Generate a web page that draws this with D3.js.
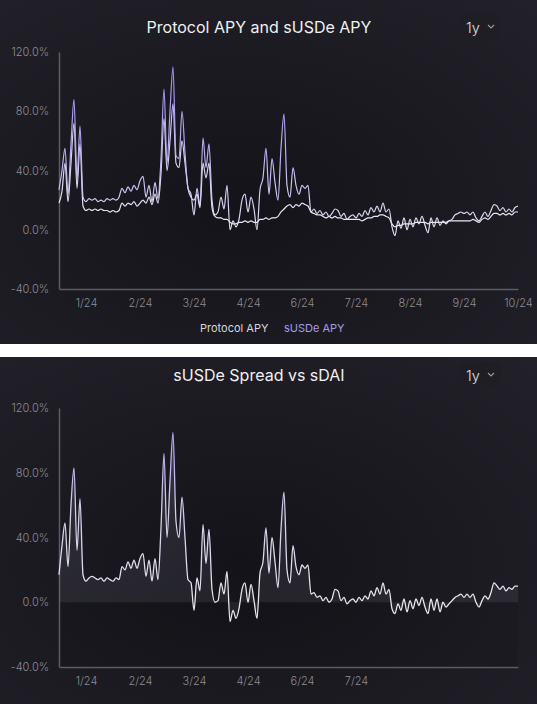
<!DOCTYPE html>
<html>
<head>
<meta charset="utf-8">
<script src="https://cdn.jsdelivr.net/npm/d3@7"></script>
<style>
  html, body { margin: 0; padding: 0; background: #fff; }
  svg { display: block; font-family: Inter, "Noto Sans", sans-serif; }
</style>
</head>
<body>
<svg id="chart" width="537" height="704"></svg>
<script>
// month labels as printed under each chart
var monthLabels = ['1/24', '2/24', '3/24', '4/24', '6/24', '7/24', '8/24', '9/24', '10/24'];
var spreadMonthLabels = ['1/24', '2/24', '3/24', '4/24', '6/24', '7/24'];
var yTicks = [-40, 0, 40, 80, 120];

// APY in %, evenly sampled from mid Dec 23 to Oct 24
var susdeApy = [
  27, 40, 55, 24, 58, 88, 34, 70, 22,
  19, 21, 20, 21, 19, 20, 19, 21, 20, 21, 20, 22,
  28, 25, 29, 26, 30, 27, 33, 36, 22, 30, 19, 32, 21,
  48, 95, 45, 80, 110, 50, 48, 80, 52, 28, 24, 10, 28, 16, 62, 42, 58, 20,
  10, 12, 22, 14, 30, 0, 6, 2, 7, 20, 24, 12, 22, 14, 0, 27,
  35, 55, 24, 48, 32, 20, 55, 78, 30, 22, 42, 30, 24, 30, 28, 30,
  12, 14, 11, 13, 10, 12, 9, 11, 14, 13, 9, 11, 7, 9,
  10, 8, 11, 9, 13, 10, 15, 12, 16, 12, 18, 12, 14, 2,
  -4, 6, 1, 8, 0, 7, 2, 8, 4, 9, 3, -2, 8, 2, 8, 3, 6, 4, 6,
  7, 10, 11, 12, 11, 12, 10, 12, 8, 6, 9, 12, 9,
  13, 17, 16, 13, 15, 12, 14, 12, 15, 16
];

var protocolApy = [
  18, 26, 45, 19, 45, 72, 28, 58, 16,
  13, 14, 13, 14, 13, 14, 13, 13, 12, 13, 12, 13,
  18, 16, 18, 17, 19, 16, 18, 20, 18, 22, 17, 24, 18,
  38, 75, 40, 60, 85, 45, 42, 60, 45, 28, 22, 20, 24, 15, 45, 35, 45, 15,
  9, 8, 8, 7, 7, 5, 4, 4, 5, 5, 6, 5, 6, 5, 5, 7,
  7, 8, 7, 8, 8, 9, 12, 14, 16, 17, 15, 17, 16, 18, 17, 16,
  12, 11, 10, 10, 9, 8, 9, 8, 9, 8, 8, 7, 7, 7,
  7, 7, 7, 6, 7, 8, 8, 9, 9, 10, 10, 9, 8, 4,
  2, 3, 3, 4, 4, 4, 4, 5, 5, 5, 5, 4, 5, 5, 5, 5, 5, 5, 6,
  6, 6, 6, 6, 6, 6, 6, 7, 6, 5, 7, 8, 7,
  9, 11, 11, 10, 11, 10, 11, 10, 12, 12
];

var spreadVsSdai = [
  17, 35, 49, 22, 60, 83, 32, 64, 17,
  13, 15, 16, 15, 14, 15, 13, 15, 14, 13, 15, 14,
  22, 20, 25, 21, 26, 21, 27, 30, 16, 26, 13, 27, 14,
  46, 92, 40, 75, 105, 50, 40, 65, 40, 14, 12, -5, 15, 7, 48, 24, 45, 8,
  0, 1, 12, 5, 19, -12, -5, -10, -4, 8, 12, 0, 11, 1, -10, 18,
  25, 46, 18, 40, 25, 9, 45, 68, 20, 12, 35, 22, 17, 23, 21, 23,
  5, 6, 3, 4, 1, 3, 0, 2, 8, 7, 1, 3, -1, 1,
  2, 0, 3, 1, 4, 2, 7, 4, 9, 5, 12, 5, 8, -4,
  -7, -1, -5, 2, -6, 1, -4, 2, -2, 3, -3, -7, 2, -5, 2, -6, 0, -3, -1,
  1, 3, 4, 5, 3, 5, 3, 5, 0, -3, 1, 4, 2,
  6, 12, 10, 8, 10, 7, 9, 8, 10, 10
];

var svg = d3.select('#chart');
var defs = svg.append('defs');

var bg = defs.append('radialGradient').attr('id', 'panelBg')
  .attr('cx', '45%').attr('cy', '60%').attr('r', '80%');
bg.append('stop').attr('offset', '0%').attr('stop-color', '#141319');
bg.append('stop').attr('offset', '100%').attr('stop-color', '#222129');

// sample index -> month slot (1/24 = 0)
var slot = d3.scaleLinear().domain([0, susdeApy.length - 1]).range([-0.5, 8]);
var x = d3.scaleLinear().domain([-0.5, 8]).range([59, 518]);

function vGrad(id, y1, y2, stops) {
  var g = defs.append('linearGradient').attr('id', id)
    .attr('gradientUnits', 'userSpaceOnUse')
    .attr('x1', 0).attr('x2', 0).attr('y1', y1).attr('y2', y2);
  stops.forEach(function(s) {
    g.append('stop').attr('offset', s[0]).attr('stop-color', s[1]).attr('stop-opacity', s[2] == null ? 1 : s[2]);
  });
}

function panel(top, height, title, titleY, yTop, yBottom, labels) {
  svg.append('rect').attr('x', 0).attr('y', top).attr('width', 537).attr('height', height)
    .attr('fill', 'url(#panelBg)');

  svg.append('text').attr('x', 259).attr('y', titleY).attr('text-anchor', 'middle')
    .attr('fill', '#f0f0f2').attr('font-size', 16).attr('font-weight', 400).text(title);

  svg.append('rect').attr('x', 459).attr('y', titleY - 19).attr('width', 42).attr('height', 25)
    .attr('rx', 6).attr('fill', '#1f1e25');
  svg.append('text').attr('x', 466).attr('y', titleY).attr('fill', '#e2e2e6')
    .attr('font-size', 14.5).attr('font-weight', 300).text('1y');
  svg.append('path')
    .attr('d', 'M' + 488 + ',' + (titleY - 8) + 'l3,3l3,-3')
    .attr('fill', 'none').attr('stroke', '#9a9aa2').attr('stroke-width', 1.1);

  var y = d3.scaleLinear().domain([-40, 120]).range([yBottom, yTop]);

  var gx = svg.append('g').attr('transform', 'translate(0,' + yBottom + ')')
    .call(d3.axisBottom(x).tickValues(d3.range(labels.length))
      .tickFormat(function(i) { return labels[i]; })
      .tickSize(0).tickPadding(10));
  var gy = svg.append('g').attr('transform', 'translate(59,0)')
    .call(d3.axisLeft(y).tickValues(yTicks)
      .tickFormat(function(d) { return d.toFixed(1) + '%'; })
      .tickSize(0).tickPadding(10));
  [gx, gy].forEach(function(g) {
    g.select('.domain').attr('stroke', '#5d5c64').attr('stroke-width', 1.5);
    g.selectAll('text').attr('fill', '#8d8c94').attr('font-size', 11)
      .attr('font-weight', 300).attr('font-family', 'Inter, sans-serif');
  });
  return y;
}

// ---- top chart
var y1 = panel(0, 344, 'Protocol APY and sUSDe APY', 33, 52, 289, monthLabels);
vGrad('gradS', 60, 230, [[0, '#9a88f2'], [0.55, '#b9aef0'], [1, '#e4e1f2']]);
vGrad('gradP', 60, 230, [[0, '#b4aaf0'], [0.6, '#d6d2ee'], [1, '#ecebf2']]);

var line1 = d3.line()
  .x(function(d, i) { return x(slot(i)); })
  .y(function(d) { return y1(d); })
  .curve(d3.curveMonotoneX);

svg.append('path').datum(protocolApy).attr('d', line1)
  .attr('fill', 'none').attr('stroke', 'url(#gradP)').attr('stroke-width', 1.2);
svg.append('path').datum(susdeApy).attr('d', line1)
  .attr('fill', 'none').attr('stroke', 'url(#gradS)').attr('stroke-width', 1.2);

var legend = svg.append('g').attr('font-size', 11);
legend.append('text').attr('x', 200).attr('y', 332).attr('fill', '#d6d6dc').text('Protocol APY');
legend.append('text').attr('x', 284).attr('y', 332).attr('fill', '#a69ce6').text('sUSDe APY');

// ---- bottom chart
var y2 = panel(357, 347, 'sUSDe Spread vs sDAI', 381, 408, 667, spreadMonthLabels);

svg.append('rect').attr('x', 60).attr('y', y2(0)).attr('width', 458).attr('height', y2(-40) - y2(0))
  .attr('fill', '#000').attr('opacity', 0.07);

vGrad('gradA', y2(110), y2(0), [[0, '#9a90d8', 0.28], [0.5, '#8a8aa8', 0.16], [1, '#80828f', 0.14]]);
vGrad('gradD', y2(110), y2(0), [[0, '#a597f0'], [0.45, '#cfcbe8'], [1, '#e6e6ec']]);

var area2 = d3.area()
  .x(function(d, i) { return x(slot(i)); })
  .y0(y2(0))
  .y1(function(d) { return y2(d); })
  .curve(d3.curveMonotoneX);
var line2 = d3.line()
  .x(function(d, i) { return x(slot(i)); })
  .y(function(d) { return y2(d); })
  .curve(d3.curveMonotoneX);

svg.append('path').datum(spreadVsSdai).attr('d', area2).attr('fill', 'url(#gradA)');
svg.append('path').datum(spreadVsSdai).attr('d', line2)
  .attr('fill', 'none').attr('stroke', 'url(#gradD)').attr('stroke-width', 1.3);
</script>
</body>
</html>
